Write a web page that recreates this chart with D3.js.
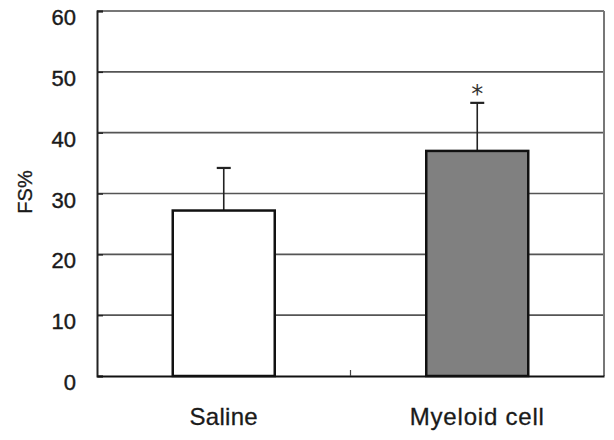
<!DOCTYPE html>
<html><head><meta charset="utf-8">
<script src="https://cdn.jsdelivr.net/npm/d3@7"></script>
<style>html,body{margin:0;padding:0;background:#fff;}svg{display:block;}</style>
</head><body>
<svg id="chart" width="614" height="440"></svg>
<script>
const categories = ["Saline", "Myeloid cell"];
const means = [27.2, 37.0];
const errors = [7.0, 7.9];
const fills = ["#ffffff", "#808080"];
const significance = ["", "*"];
const yTicks = [0, 10, 20, 30, 40, 50, 60];
const yLabel = "FS%";

const svg = d3.select("#chart");
const m = {left: 97, right: 604, top: 11, bottom: 376};
const font = "Liberation Sans, Arial, sans-serif";

const x = d3.scaleBand().domain(categories).range([m.left, m.right]).paddingInner(0).paddingOuter(0);
const y = d3.scaleLinear().domain([0, 60]).range([m.bottom, m.top]);
const barW = 102;

// gridlines
svg.append("g").selectAll("line").data(yTicks.filter(d => d > 0 && d < 60)).join("line")
  .attr("x1", m.left).attr("x2", m.right)
  .attr("y1", d => y(d)).attr("y2", d => y(d))
  .attr("stroke", "#555").attr("stroke-width", 1.6);

// plot frame (top & right gray)
svg.append("line").attr("x1", m.left).attr("x2", m.right).attr("y1", y(60)).attr("y2", y(60))
  .attr("stroke", "#777").attr("stroke-width", 2);
svg.append("line").attr("x1", m.right).attr("x2", m.right).attr("y1", y(60)).attr("y2", m.bottom)
  .attr("stroke", "#777").attr("stroke-width", 2);

// y axis
const yAxis = d3.axisLeft(y).tickValues(yTicks).tickSize(-6).tickFormat(d3.format("d")).tickPadding(20);
const gy = svg.append("g").attr("transform", `translate(${m.left},0)`).call(yAxis);
gy.select(".domain").attr("stroke", "#222").attr("stroke-width", 2);
gy.selectAll(".tick line").attr("stroke", "#222").attr("stroke-width", 1.5);
gy.selectAll(".tick text").attr("font-family", font).attr("font-size", 22)
  .attr("fill", "#1a1a1a").attr("stroke", "#1a1a1a").attr("stroke-width", 0.4)
  .attr("dy", "0.62em").attr("x", -21);

// y label
svg.append("text").attr("transform", "translate(32,192) rotate(-90)")
  .attr("text-anchor", "middle").attr("font-family", font).attr("font-size", 20)
  .attr("fill", "#1a1a1a").attr("stroke", "#1a1a1a").attr("stroke-width", 0.3).text(yLabel);

// bars
const data = categories.map((c, i) => ({c, v: means[i], e: errors[i], f: fills[i], s: significance[i]}));
const cx = d => x(d.c) + x.bandwidth() / 2;

// error bars
const eg = svg.append("g");
eg.selectAll("line.stem").data(data).join("line").attr("class", "stem")
  .attr("x1", cx).attr("x2", cx).attr("y1", d => y(d.v)).attr("y2", d => y(d.v + d.e))
  .attr("stroke", "#222").attr("stroke-width", 1.6);
eg.selectAll("line.cap").data(data).join("line").attr("class", "cap")
  .attr("x1", d => cx(d) - 7).attr("x2", d => cx(d) + 7)
  .attr("y1", d => y(d.v + d.e)).attr("y2", d => y(d.v + d.e))
  .attr("stroke", "#222").attr("stroke-width", 2.2);

svg.append("g").selectAll("rect").data(data).join("rect")
  .attr("x", d => cx(d) - barW / 2).attr("width", barW)
  .attr("y", d => y(d.v)).attr("height", d => y(0) - y(d.v))
  .attr("fill", d => d.f).attr("stroke", "#111").attr("stroke-width", 2.5);

// significance
svg.append("g").selectAll("text").data(data.filter(d => d.s)).join("text")
  .attr("x", cx).attr("y", d => y(d.v + d.e) - 1)
  .attr("text-anchor", "middle").attr("font-family", "DejaVu Sans, sans-serif")
  .attr("font-size", 24).attr("fill", "#333").text(d => d.s);

// x axis
const xAxis = d3.axisBottom(x).tickSize(0).tickPadding(32);
const gx = svg.append("g").attr("transform", `translate(0,${m.bottom})`).call(xAxis);
gx.select(".domain").attr("stroke", "#111").attr("stroke-width", 2.2);
gx.selectAll(".tick text").attr("font-family", font).attr("font-size", 24).attr("fill", "#1a1a1a")
  .attr("stroke", "#1a1a1a").attr("stroke-width", 0.3)
  .attr("dy", "0.71em").style("letter-spacing", d => d === "Myeloid cell" ? "0.8px" : "0.3px");
// category separator tick
svg.append("line").attr("x1", x(categories[1])).attr("x2", x(categories[1]))
  .attr("y1", m.bottom).attr("y2", m.bottom - 6).attr("stroke", "#444").attr("stroke-width", 1.2);
</script>
</body></html>
